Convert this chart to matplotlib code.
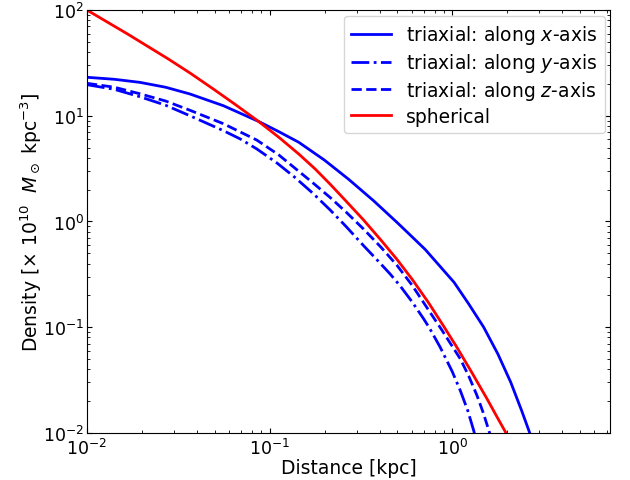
import numpy as np
import matplotlib
matplotlib.use('Agg')
import matplotlib.pyplot as plt

# density profiles along each axis of the triaxial model, plus the spherical one
r_x = [0.01, 0.01413, 0.0195, 0.02692, 0.03664, 0.05585, 0.0869, 0.1122,
       0.1445, 0.1995, 0.2704, 0.3715, 0.4977, 0.5957, 0.7112, 1.0233,
       1.2303, 1.486, 1.778, 2.089, 2.399, 2.655, 2.818]
rho_x = [23.12, 22.13, 20.70, 18.62, 16.07, 12.45, 8.85, 7.08,
         5.61, 3.81, 2.512, 1.567, 0.982, 0.7295, 0.5433, 0.2655,
         0.166, 0.1, 0.0557, 0.0302, 0.01622, 0.01, 0.00708]

r_y = [0.01, 0.01413, 0.0195, 0.02692, 0.03664, 0.05585, 0.06918, 0.08511,
       0.1096, 0.138, 0.1738, 0.2148, 0.2630, 0.3266, 0.3981, 0.4571,
       0.5188, 0.6026, 0.6966, 0.7516, 0.859, 1.0, 1.107, 1.2162, 1.309, 1.349]
rho_y = [19.68, 17.78, 15.14, 12.59, 10.0, 7.23, 6.026, 4.853,
         3.581, 2.600, 1.828, 1.282, 0.8913, 0.5916, 0.4121, 0.3184,
         0.2455, 0.1738, 0.1202, 0.0977, 0.0646, 0.0380, 0.0251, 0.01622,
         0.01059, 0.00871]

r_z = [0.01, 0.01413, 0.0195, 0.02692, 0.03664, 0.05585, 0.08511, 0.1122,
       0.1409, 0.1738, 0.2148, 0.2630, 0.3266, 0.4074, 0.4977, 0.6026,
       0.7261, 0.8770, 1.107, 1.230, 1.365, 1.479, 1.581, 1.641]
rho_z = [20.28, 18.62, 16.14, 13.8, 11.27, 8.41, 5.888, 4.266,
         3.09, 2.296, 1.683, 1.222, 0.849, 0.5702, 0.3855, 0.2495,
         0.1535, 0.0940, 0.0501, 0.0346, 0.02265, 0.01545, 0.01072, 0.00871]

r_sph = [0.01, 0.0166, 0.02793, 0.03715, 0.0492, 0.06607, 0.0869, 0.1122,
         0.1445, 0.1778, 0.2148, 0.2630, 0.3266, 0.4074, 0.4977, 0.6026,
         0.7413, 0.8913, 1.059, 1.288, 1.549, 1.758, 1.968, 2.089]
rho_sph = [100.0, 59.7, 34.4, 25.0, 17.91, 12.50, 8.85, 6.27,
           4.345, 3.133, 2.249, 1.549, 1.035, 0.6653, 0.4385, 0.2844,
           0.1706, 0.104, 0.0647, 0.03656, 0.02104, 0.01416, 0.01, 0.00813]

fig, ax = plt.subplots(figsize=(6.3, 4.81), dpi=100)
plt.subplots_adjust(left=0.138, right=0.969, top=0.977, bottom=0.098)

ax.plot(r_x, rho_x, 'b-', lw=2, label='triaxial: along $x$-axis')
ax.plot(r_y, rho_y, 'b-.', lw=2, label='triaxial: along $y$-axis')
ax.plot(r_z, rho_z, 'b--', lw=2, label='triaxial: along $z$-axis')
ax.plot(r_sph, rho_sph, 'r-', lw=2, label='spherical')

ax.set_xscale('log')
ax.set_yscale('log')
ax.set_xlim(0.01, 7.35)
ax.set_ylim(0.01, 100)

ax.tick_params(which='both', direction='in', top=True, right=True, labelsize=12.5)
ax.tick_params(axis='y', pad=2)
ax.set_xlabel('Distance [kpc]', fontsize=13.5, labelpad=0)
ax.set_ylabel(r'Density [$\times$ $10^{10}$  $M_\odot$ kpc$^{-3}$]', fontsize=13.5,
              labelpad=-1)
ax.legend(loc='upper right', fontsize=13.5, labelspacing=0.26, handlelength=2.1,
          borderaxespad=0.3)

fig.savefig('out.png', dpi=100)
